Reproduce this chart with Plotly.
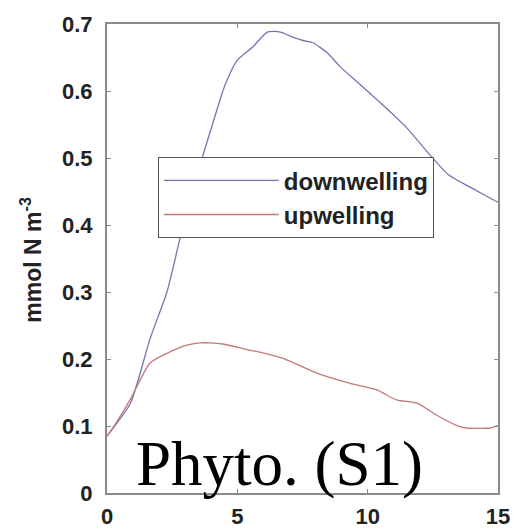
import plotly.graph_objects as go

# Time axis (x) and phytoplankton concentration (mmol N m^-3)
down_x = [0, 0.1, 0.9, 1.65, 2.3, 2.8, 3.2, 3.65, 4.1, 4.5, 5.0, 5.6, 6.15, 6.65, 7.15, 7.55, 7.9, 8.45, 8.95, 9.7, 10.5, 11.5, 12.4, 13.1, 14.0, 14.85, 15.0]
down_y = [0.085, 0.09, 0.134, 0.23, 0.30, 0.38, 0.44, 0.50, 0.557, 0.606, 0.646, 0.666, 0.688, 0.688, 0.68, 0.675, 0.672, 0.657, 0.636, 0.61, 0.582, 0.545, 0.504, 0.475, 0.455, 0.437, 0.434]

up_x = [0, 0.1, 0.9, 1.65, 2.5, 3.0, 3.6, 3.96, 4.5, 5.49, 5.9, 6.76, 8.05, 9.3, 10.35, 11.1, 11.9, 12.65, 13.4, 13.8, 14.7, 14.95, 15.0]
up_y = [0.085, 0.09, 0.14, 0.194, 0.212, 0.22, 0.224, 0.224, 0.222, 0.213, 0.21, 0.201, 0.179, 0.164, 0.154, 0.139, 0.134, 0.116, 0.101, 0.097, 0.097, 0.1, 0.1]

x_ticks = [0, 5, 10, 15]
y_ticks = [0, 0.1, 0.2, 0.3, 0.4, 0.5, 0.6, 0.7]

FONT = "Liberation Sans"

fig = go.Figure()
fig.add_trace(go.Scatter(x=down_x, y=down_y, mode="lines", name="downwelling",
                         line=dict(color="#7474b6", width=1.3, shape="spline", smoothing=0.6)))
fig.add_trace(go.Scatter(x=up_x, y=up_y, mode="lines", name="upwelling",
                         line=dict(color="#c47878", width=1.3, shape="spline", smoothing=0.6)))

axis_common = dict(showgrid=False, zeroline=False, showline=True, linecolor="#8a8a8a",
                   linewidth=2, mirror="ticks", ticks="inside", ticklen=4,
                   tickcolor="#8a8a8a", tickwidth=1, automargin=False,
                   tickfont=dict(family=FONT, size=22, color="#222222", weight="bold"))

fig.update_xaxes(range=[0, 15], tickvals=x_ticks, ticktext=[str(v) for v in x_ticks],
                 ticklabelstandoff=3, **axis_common)
fig.update_yaxes(range=[0, 0.7], tickvals=y_ticks,
                 ticktext=["0" if v == 0 else f"{v:.1f}" for v in y_ticks],
                 ticklabelstandoff=8, **axis_common)

fig.add_annotation(text="mmol N m<sup>-3</sup>", xref="paper", yref="paper",
                   x=-0.195, y=0.497, xanchor="center", yanchor="middle",
                   textangle=-90, showarrow=False,
                   font=dict(family=FONT, size=23, color="#222222", weight="bold"))

fig.add_annotation(text="Phyto. (S1)", xref="paper", yref="paper",
                   x=0.44, y=0.062, showarrow=False, xanchor="center", yanchor="middle",
                   font=dict(family="Liberation Serif", size=63, color="#000000"))

fig.update_layout(
    width=514, height=531,
    margin=dict(l=107, r=16, t=24, b=38, autoexpand=False),
    plot_bgcolor="white", paper_bgcolor="white",
    legend=dict(x=0.13, y=0.716, xanchor="left", yanchor="top",
                bordercolor="#555555", borderwidth=1, bgcolor="white",
                itemwidth=115, tracegroupgap=0,
                font=dict(family=FONT, size=24, color="#222222", weight="bold")),
)

fig.write_html("out.html")
